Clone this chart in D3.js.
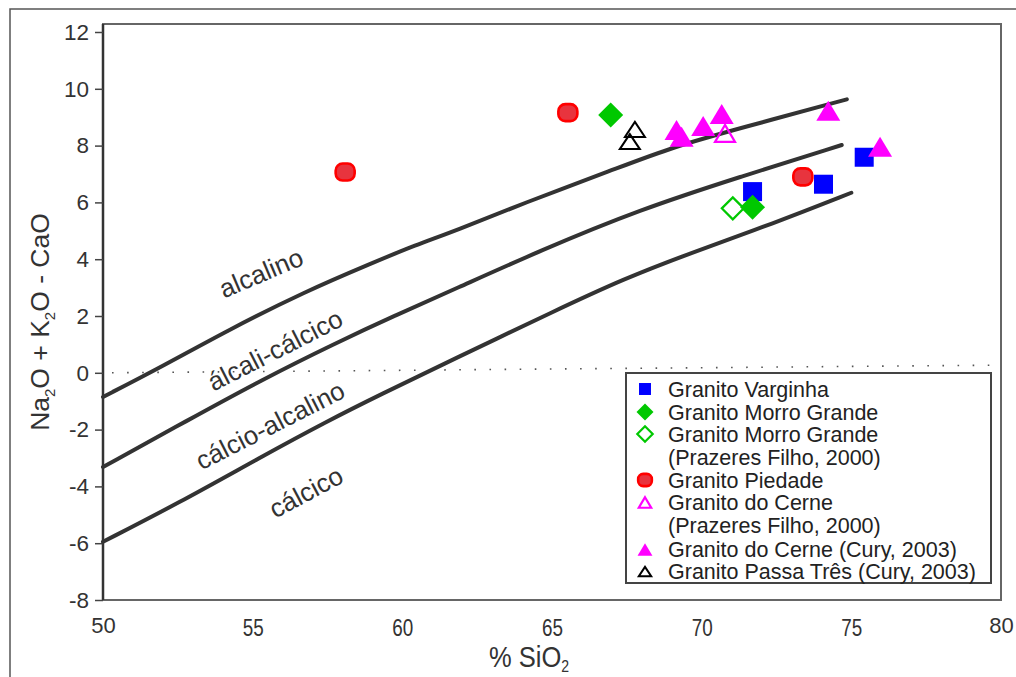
<!DOCTYPE html>
<html>
<head>
<meta charset="utf-8">
<script src="https://cdn.jsdelivr.net/npm/d3@7"></script>
<style>
  body { margin: 0; background: #fff; }
  svg { display: block; font-family: "Liberation Sans", Arial, sans-serif; }
</style>
</head>
<body>
<svg width="1016" height="677"></svg>
<script>
// axis ticks
const xTicks = [50, 55, 60, 65, 70, 75, 80];
const yTicks = [-8, -6, -4, -2, 0, 2, 4, 6, 8, 10, 12];

// field boundaries (SiO2, Na2O+K2O-CaO)
const boundaryAlk = [[50, -0.85], [51.95, 0.21], [54.19, 1.51], [56.75, 2.86], [58.98, 3.86], [60.44, 4.5],
  [61.78, 5.0], [64.04, 5.97], [67.05, 7.15], [69.06, 7.96], [71.28, 8.61], [74.85, 9.63]];
const boundaryAlkCalc = [[50, -3.32], [52.85, -1.66], [55.3, -0.25], [57.76, 1.04], [59.76, 2.02], [61.76, 2.95],
  [64.6, 4.3], [67.94, 5.75], [71.28, 6.9], [74.68, 8.02]];
const boundaryCalcAlk = [[50, -5.95], [52.5, -4.6], [55.3, -2.95], [57.5, -1.7], [59.2, -0.8], [61.76, 0.5],
  [65.15, 2.21], [67.38, 3.3], [69.61, 4.21], [72.4, 5.26], [75.0, 6.34]];
// dotted reference line near zero
const zeroLine = [[50.3, 0], [80, 0.27]];

// field names: [label, SiO2, value, angle]
const fieldLabels = [
  ["alcalino", 55.28, 3.52, -23],
  ["álcali-cálcico", 55.75, 0.8, -27],
  ["cálcio-alcalino", 55.58, -1.85, -27],
  ["cálcico", 56.78, -4.2, -28]
];

// samples
const varginha = [[71.7, 6.38], [74.07, 6.64], [75.43, 7.59]];
const morroGrande = [[66.96, 9.08], [71.7, 5.83]];
const morroGrandePF = [[71.04, 5.79]];
const piedade = [[58.09, 7.07], [65.53, 9.16], [73.38, 6.9]];
const cernePF = [[70.78, 8.43]];
const cerneCury = [[69.16, 8.55], [69.33, 8.31], [70.05, 8.69], [70.67, 9.11], [74.23, 9.23], [75.96, 7.96]];
const passaTres = [[67.77, 8.57], [67.6, 8.14]];

const legendLabels = [
  ["Granito Varginha"],
  ["Granito Morro Grande"],
  ["Granito Morro Grande", "(Prazeres Filho, 2000)"],
  ["Granito Piedade"],
  ["Granito do Cerne", "(Prazeres Filho, 2000)"],
  ["Granito do Cerne (Cury, 2003)"],
  ["Granito Passa Três (Cury, 2003)"]
];

const svg = d3.select("svg");
const x = d3.scaleLinear().domain([50, 80]).range([103, 1001]);
const y = d3.scaleLinear().domain([-8, 12]).range([600, 32]);
const plotTop = 24;

// outer frame
svg.append("rect")
  .attr("x", 10).attr("y", 9).attr("width", 1100).attr("height", 800)
  .attr("fill", "none").attr("stroke", "#555").attr("stroke-width", 1.5);

// plot frame
svg.append("rect")
  .attr("x", x(50)).attr("y", plotTop)
  .attr("width", x(80) - x(50)).attr("height", y(-8) - plotTop)
  .attr("fill", "none").attr("stroke", "#666").attr("stroke-width", 2);

// zero line
svg.append("path")
  .attr("d", d3.line().x(d => x(d[0])).y(d => y(d[1]))(zeroLine))
  .attr("stroke", "#555").attr("stroke-width", 1.6).attr("fill", "none")
  .attr("stroke-dasharray", "1.6,13.5");

// y axis
const yAxis = svg.append("g")
  .attr("transform", `translate(${x(50)},0)`)
  .call(d3.axisLeft(y).tickValues(yTicks).tickFormat(d => String(d))
    .tickSize(8).tickPadding(6).tickSizeOuter(0));
yAxis.select(".domain").attr("stroke", "#333").attr("stroke-width", 2.5)
  .attr("d", `M0,${plotTop}V${y(-8)}`);
yAxis.selectAll(".tick line").attr("stroke", "#444").attr("stroke-width", 1.5);
yAxis.selectAll(".tick text")
  .attr("font-size", 22.5).attr("fill", "#333")
  .attr("font-family", "Liberation Sans, Arial, sans-serif");

// x axis
const xAxis = svg.append("g")
  .attr("transform", `translate(0,${y(-8)})`)
  .call(d3.axisBottom(x).tickValues(xTicks).tickSize(0).tickPadding(17));
xAxis.select(".domain").remove();
xAxis.selectAll(".tick text")
  .attr("font-size", d => (d === 50 || d === 80) ? 22 : 24).attr("fill", "#333")
  .attr("font-family", "Liberation Sans, Arial, sans-serif")
  .attr("dy", d => (d === 50 || d === 80) ? "0.71em" : "0.78em")
  .attr("textLength", d => (d === 50 || d === 80) ? null : 21)
  .attr("lengthAdjust", "spacingAndGlyphs");

// axis titles
const yTitle = svg.append("text")
  .attr("transform", `translate(49,${(y(12) + y(-8)) / 2 + 6}) rotate(-90)`)
  .attr("text-anchor", "middle")
  .attr("font-size", 26.5).attr("fill", "#333");
yTitle.append("tspan").text("Na");
yTitle.append("tspan").text("2").attr("font-size", 15).attr("dy", 6);
yTitle.append("tspan").text("O + K").attr("dy", -6);
yTitle.append("tspan").text("2").attr("font-size", 15).attr("dy", 6);
yTitle.append("tspan").text("O - CaO").attr("dy", -6);

const xTitle = svg.append("text")
  .attr("transform", `translate(${(x(50) + x(80)) / 2 - 23},667) scale(0.88,1)`)
  .attr("text-anchor", "middle")
  .attr("font-size", 29).attr("fill", "#333");
xTitle.append("tspan").text("% SiO");
xTitle.append("tspan").text("2").attr("font-size", 16).attr("dy", 5);

// boundary curves
const line = d3.line().x(d => x(d[0])).y(d => y(d[1])).curve(d3.curveBasis);
svg.selectAll("path.boundary")
  .data([boundaryAlk, boundaryAlkCalc, boundaryCalcAlk])
  .join("path")
  .attr("class", "boundary")
  .attr("d", line)
  .attr("fill", "none").attr("stroke", "#333").attr("stroke-width", 4)
  .attr("stroke-linecap", "round");

// field labels
svg.selectAll("text.field")
  .data(fieldLabels)
  .join("text")
  .attr("class", "field")
  .attr("transform", d => `translate(${x(d[1])},${y(d[2])}) rotate(${d[3]})`)
  .attr("text-anchor", "middle").attr("dy", "0.35em")
  .attr("font-size", 26).attr("fill", "#333")
  .text(d => d[0]);

// symbol drawing helpers
function tri(w, h) {
  return `M0,${-h / 2}L${w / 2},${h / 2}L${-w / 2},${h / 2}Z`;
}
function diamond(s) {
  return `M0,${-s}L${s},0L0,${s}L${-s},0Z`;
}
function drawSymbol(g, kind, scale) {
  const k = scale || 1;
  if (kind === "square") {
    g.append("rect").attr("x", -9.5 * k).attr("y", -9.5 * k).attr("width", 19 * k).attr("height", 19 * k)
      .attr("fill", "#0000ff");
  } else if (kind === "diamond") {
    g.append("path").attr("d", diamond(12.5 * k)).attr("fill", "#00c800");
  } else if (kind === "diamondOpen") {
    g.append("path").attr("d", diamond(11 * k)).attr("fill", "#fff")
      .attr("stroke", "#00c800").attr("stroke-width", 2.2);
  } else if (kind === "circle") {
    g.append("rect").attr("x", -9.5 * k).attr("y", -8.5 * k).attr("width", 19 * k).attr("height", 17 * k)
      .attr("rx", 7 * k).attr("fill", "#e8343e").attr("stroke", "#ff0000").attr("stroke-width", 2.6);
  } else if (kind === "triOpen") {
    g.append("path").attr("d", tri(20 * k, 17 * k)).attr("fill", "none")
      .attr("stroke", "#ff00ff").attr("stroke-width", 2.2);
  } else if (kind === "tri") {
    g.append("path").attr("d", tri(24 * k, 20 * k)).attr("fill", "#ff00ff");
  } else if (kind === "triBlack") {
    g.append("path").attr("d", tri(20 * k, 15 * k)).attr("fill", "none")
      .attr("stroke", "#000").attr("stroke-width", 2);
  }
}

const seriesList = [
  [varginha, "square"],
  [morroGrandePF, "diamondOpen"],
  [morroGrande, "diamond"],
  [piedade, "circle"],
  [cernePF, "triOpen"],
  [cerneCury, "tri"],
  [passaTres, "triBlack"]
];
seriesList.forEach(([pts, kind]) => {
  svg.append("g").selectAll("g")
    .data(pts)
    .join("g")
    .attr("transform", d => `translate(${x(d[0])},${y(d[1])})`)
    .each(function () { drawSymbol(d3.select(this), kind); });
});

// legend
const legend = svg.append("g");
legend.append("rect")
  .attr("x", 626).attr("y", 373).attr("width", 365).attr("height", 210)
  .attr("fill", "#fff").attr("stroke", "#444").attr("stroke-width", 2);

const legendKinds = ["square", "diamond", "diamondOpen", "circle", "triOpen", "tri", "triBlack"];
const legendRows = [389, 412, 434, 480, 502.5, 549.5, 571.5];
legendLabels.forEach((lab, i) => {
  const g = legend.append("g").attr("transform", `translate(0,${legendRows[i]})`);
  const sym = g.append("g").attr("transform", "translate(645,0)");
  const k = legendKinds[i] === "square" ? 0.63 : legendKinds[i] === "diamond" ? 0.68 : legendKinds[i] === "diamondOpen" ? 0.7 : legendKinds[i] === "circle" ? 0.72 : 0.62;
  drawSymbol(sym, legendKinds[i], k);
  lab.forEach((t, j) => {
    g.append("text")
      .attr("x", 668).attr("y", j * 23).attr("dy", "0.35em")
      .attr("font-size", 21.5).attr("fill", "#222")
      .text(t);
  });
});
</script>
</body>
</html>
